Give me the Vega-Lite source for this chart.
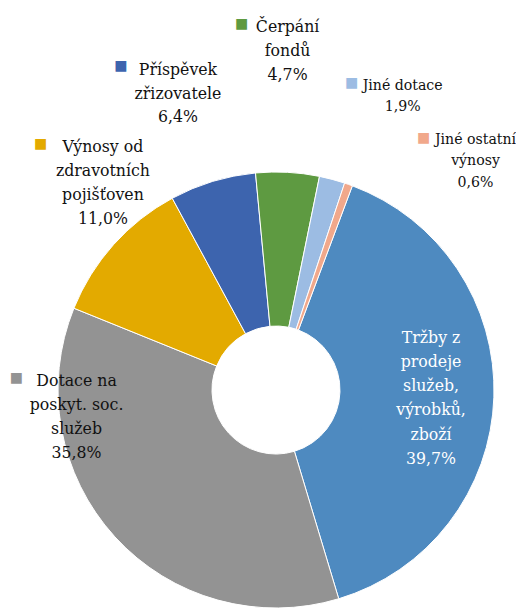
{
  "$schema": "https://vega.github.io/schema/vega-lite/v6.json",
  "autosize": {"type": "none"},
  "padding": {"left": 36, "top": 166, "right": 0, "bottom": 0},
  "width": 480,
  "height": 448,
  "background": "white",
  "view": {"stroke": null},
  "data": {
    "values": [
      {"kat": "Tržby z prodeje služeb, výrobků, zboží", "label": "Tržby z\nprodeje\nslužeb,\nvýrobků,\nzboží\n39,7%", "podil": 39.7, "poradi": 1},
      {"kat": "Dotace na poskyt. soc. služeb", "label": "Dotace na\nposkyt. soc.\nslužeb\n35,8%", "podil": 35.8, "poradi": 2},
      {"kat": "Výnosy od zdravotních pojišťoven", "label": "Výnosy od\nzdravotních\npojišťoven\n11,0%", "podil": 11.0, "poradi": 3},
      {"kat": "Příspěvek zřizovatele", "label": "Příspěvek\nzřizovatele\n6,4%", "podil": 6.4, "poradi": 4},
      {"kat": "Čerpání fondů", "label": "Čerpání\nfondů\n4,7%", "podil": 4.7, "poradi": 5},
      {"kat": "Jiné dotace", "label": "Jiné dotace\n1,9%", "podil": 1.9, "poradi": 6},
      {"kat": "Jiné ostatní výnosy", "label": "Jiné ostatní\nvýnosy\n0,6%", "podil": 0.6, "poradi": 7}
    ]
  },
  "encoding": {
    "theta": {"field": "podil", "type": "quantitative", "stack": true, "scale": {"range": [0.3578, 6.641]}},
    "order": {"field": "poradi", "type": "quantitative"}
  },
  "layer": [
    {
      "mark": {"type": "arc", "innerRadius": 64, "outerRadius": 218, "stroke": "white", "strokeWidth": 1},
      "encoding": {
        "color": {
          "field": "kat", "type": "nominal", "legend": null,
          "scale": {
            "domain": ["Tržby z prodeje služeb, výrobků, zboží", "Dotace na poskyt. soc. služeb", "Výnosy od zdravotních pojišťoven", "Příspěvek zřizovatele", "Čerpání fondů", "Jiné dotace", "Jiné ostatní výnosy"],
            "range": ["#4E8AC0", "#939393", "#E3AA00", "#3D64AE", "#5E9A41", "#9CBCE3", "#F1A88B"]
          }
        }
      }
    },
    {
      "mark": {"type": "text", "radius": 162.1, "thetaOffset": -0.329, "align": "center", "baseline": "alphabetic", "font": "DejaVu Serif Condensed", "fontSize": 17.5, "lineHeight": 24.2, "lineBreak": "\n", "color": "white"},
      "encoding": {"text": {"condition": {"test": "datum.poradi === 1", "field": "label"}, "value": ""}}
    },
    {
      "mark": {"type": "text", "radius": 199.5, "thetaOffset": 0.759, "align": "center", "baseline": "alphabetic", "font": "DejaVu Serif Condensed", "fontSize": 17.5, "lineHeight": 24.1, "lineBreak": "\n", "color": "#111111"},
      "encoding": {"text": {"condition": {"test": "datum.poradi === 2", "field": "label"}, "value": ""}}
    },
    {
      "mark": {"type": "text", "radius": 294.5, "thetaOffset": 0.213, "align": "center", "baseline": "alphabetic", "font": "DejaVu Serif Condensed", "fontSize": 17.5, "lineHeight": 24, "lineBreak": "\n", "color": "#111111"},
      "encoding": {"text": {"condition": {"test": "datum.poradi === 3", "field": "label"}, "value": ""}}
    },
    {
      "mark": {"type": "text", "radius": 329.6, "thetaOffset": -0.007, "align": "center", "baseline": "alphabetic", "font": "DejaVu Serif Condensed", "fontSize": 17.5, "lineHeight": 23.4, "lineBreak": "\n", "color": "#111111"},
      "encoding": {"text": {"condition": {"test": "datum.poradi === 4", "field": "label"}, "value": ""}}
    },
    {
      "mark": {"type": "text", "radius": 358.5, "thetaOffset": -0.021, "align": "center", "baseline": "alphabetic", "font": "DejaVu Serif Condensed", "fontSize": 17.5, "lineHeight": 24.2, "lineBreak": "\n", "color": "#111111"},
      "encoding": {"text": {"condition": {"test": "datum.poradi === 5", "field": "label"}, "value": ""}}
    },
    {
      "mark": {"type": "text", "radius": 325.6, "thetaOffset": 0.139, "align": "center", "baseline": "alphabetic", "font": "DejaVu Serif Condensed", "fontSize": 15.7, "lineHeight": 21, "lineBreak": "\n", "color": "#111111"},
      "encoding": {"text": {"condition": {"test": "datum.poradi === 6", "field": "label"}, "value": ""}}
    },
    {
      "mark": {"type": "text", "radius": 316.5, "thetaOffset": 0.343, "align": "center", "baseline": "alphabetic", "font": "DejaVu Serif Condensed", "fontSize": 15.7, "lineHeight": 21.2, "lineBreak": "\n", "color": "#111111"},
      "encoding": {"text": {"condition": {"test": "datum.poradi === 7", "field": "label"}, "value": ""}}
    },
    {
      "mark": {"type": "text", "radius": 259.8, "thetaOffset": 0.785, "align": "center", "baseline": "middle", "font": "DejaVu Sans", "fontSize": 14, "color": "#939393"},
      "encoding": {"text": {"condition": {"test": "datum.poradi === 2", "value": "■"}, "value": ""}}
    },
    {
      "mark": {"type": "text", "radius": 340.6, "thetaOffset": 0.078, "align": "center", "baseline": "middle", "font": "DejaVu Sans", "fontSize": 14, "color": "#E3AA00"},
      "encoding": {"text": {"condition": {"test": "datum.poradi === 3", "value": "■"}, "value": ""}}
    },
    {
      "mark": {"type": "text", "radius": 359.2, "thetaOffset": -0.152, "align": "center", "baseline": "middle", "font": "DejaVu Sans", "fontSize": 14, "color": "#3D64AE"},
      "encoding": {"text": {"condition": {"test": "datum.poradi === 4", "value": "■"}, "value": ""}}
    },
    {
      "mark": {"type": "text", "radius": 367.6, "thetaOffset": -0.147, "align": "center", "baseline": "middle", "font": "DejaVu Sans", "fontSize": 14, "color": "#5E9A41"},
      "encoding": {"text": {"condition": {"test": "datum.poradi === 5", "value": "■"}, "value": ""}}
    },
    {
      "mark": {"type": "text", "radius": 316.4, "thetaOffset": -0.019, "align": "center", "baseline": "middle", "font": "DejaVu Sans", "fontSize": 14, "color": "#9CBCE3"},
      "encoding": {"text": {"condition": {"test": "datum.poradi === 6", "value": "■"}, "value": ""}}
    },
    {
      "mark": {"type": "text", "radius": 292.4, "thetaOffset": 0.19, "align": "center", "baseline": "middle", "font": "DejaVu Sans", "fontSize": 14, "color": "#F1A88B"},
      "encoding": {"text": {"condition": {"test": "datum.poradi === 7", "value": "■"}, "value": ""}}
    }
  ]
}
